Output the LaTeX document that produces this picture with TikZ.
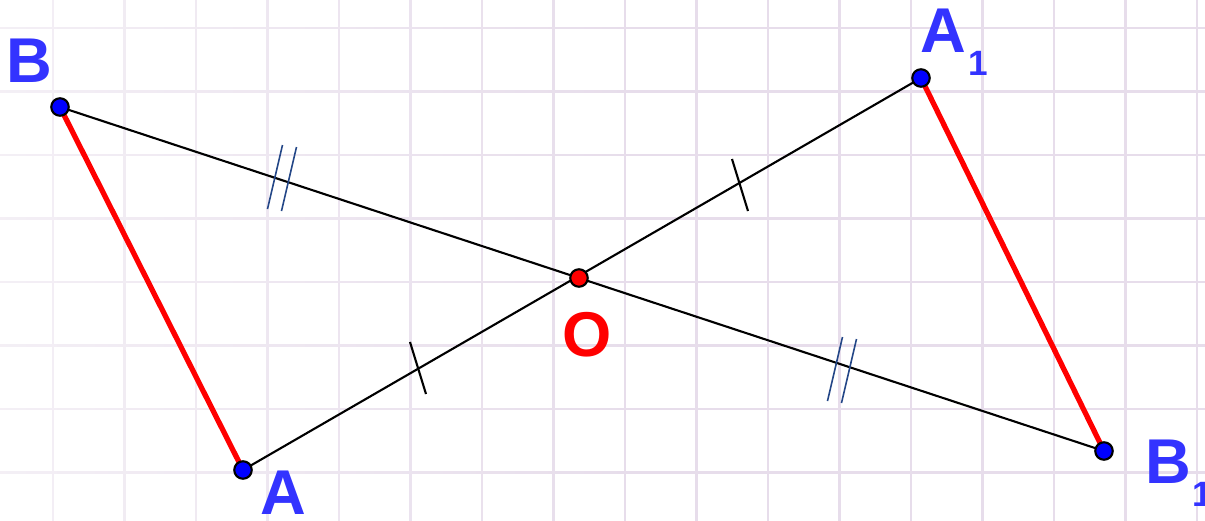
\documentclass[tikz,border=0pt]{standalone}
\usepackage{fontspec}
\setmainfont{Liberation Sans}
\usetikzlibrary{calc,fadings}

\definecolor{gridline}{RGB}{231,221,235}
\definecolor{ptblue}{RGB}{0,0,255}
\definecolor{lblblue}{RGB}{51,51,255}
\definecolor{tickblue}{RGB}{35,70,135}

\begin{document}
\begin{tikzpicture}[
    x=0.01cm, y=-0.01cm,
    gridln/.style={draw=gridline, line width=0.85pt},
    pt/.style={circle, draw=black, line width=0.6pt, minimum size=0.175cm, inner sep=0pt, fill=ptblue},
    seg/.style={line width=0.6pt},
    side/.style={draw=red, line width=1.5pt},
    lbl/.style={font=\fontsize{18}{18}\selectfont\bfseries, text=lblblue, inner sep=0pt},
    sub/.style={font=\fontsize{10}{10}\selectfont\bfseries, text=lblblue, inner sep=0pt},
    tick/.style={line width=0.6pt},
    dtick/.style={draw=tickblue, line width=0.45pt}
  ]
    \useasboundingbox (0,0) rectangle (1205,521);
    \fill[white] (0,0) rectangle (1205,521);

    % squared paper
    \foreach \k in {0,...,16}
      \draw[gridln] ({53+71.5*\k},0) -- ({53+71.5*\k},521);
    \foreach \k in {0,...,7}
      \draw[gridln] (0,{28+63.5*\k}) -- (1205,{28+63.5*\k});
    \fill[white, opacity=0.55, path fading=east] (0,0) rectangle (650,521);

    \coordinate (B) at (60,107);
    \coordinate (A) at (243,470);
    \coordinate (O) at (579,278);
    \coordinate (A1) at (921,78);
    \coordinate (B1) at (1104,451);

    % segments through O
    \draw[seg] (B) -- (B1);
    \draw[seg] (A) -- (A1);
    \draw[side] (B) -- (A);
    \draw[side] (A1) -- (B1);

    % equal marks
    \coordinate (mAO) at (418,368);
    \coordinate (mOA) at (740,185);
    \draw[tick] ($(mAO)+(-8,-26)$) -- ($(mAO)+(8,26)$);
    \draw[tick] ($(mOA)+(-8,-26)$) -- ($(mOA)+(8,26)$);
    \coordinate (mBO) at (282,177);
    \coordinate (mOB) at (842,369);
    \foreach \m in {mBO,mOB} {
      \draw[dtick] ($(\m)+(-7,0)+(7.5,-32)$) -- ($(\m)+(-7,0)+(-7.5,32)$);
      \draw[dtick] ($(\m)+(7,2)+(7.5,-32)$) -- ($(\m)+(7,2)+(-7.5,32)$);
    }

    % points
    \node[pt] (dotB) at (B) {};
    \node[pt] (dotA) at (A) {};
    \node[pt] (dotA1) at (A1) {};
    \node[pt] (dotB1) at (B1) {};
    \node[pt, fill=red] (dotO) at (O) {};

    % labels
    \node[lbl, anchor=base west] (labB) at (6,83) {B};
    \node[lbl, anchor=base west] (labA) at (260,514) {A};
    \node[lbl, text=red, anchor=base west] (labO) at (562,356) {O};
    \node[lbl, anchor=base west] (labA1) at (920,52) {A};
    \node[sub, anchor=base west] (subA1) at (968,75) {1};
    \node[lbl, anchor=base west] (labB1) at (1145,483) {B};
    \node[sub, anchor=base west] (subB1) at (1192,506) {1};
  \end{tikzpicture}
\end{document}
